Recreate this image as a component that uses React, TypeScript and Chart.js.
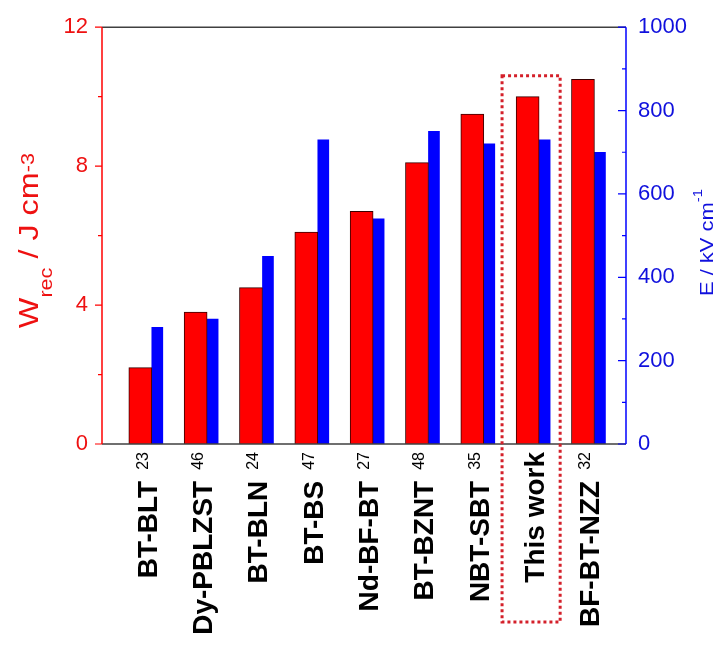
import { useEffect, useRef } from 'react';
import { Chart, registerables } from 'chart.js';

Chart.register(...registerables);

// ---- data ----
const categories = ['BT-BLT', 'Dy-PBLZST', 'BT-BLN', 'BT-BS', 'Nd-BF-BT', 'BT-BZNT', 'NBT-SBT', 'This work', 'BF-BT-NZZ'];
const refNumbers = ['23', '46', '24', '47', '27', '48', '35', '', '32'];
const wrecValues = [2.2, 3.8, 4.5, 6.1, 6.7, 8.1, 9.5, 10.0, 10.5];
const eValues = [280, 300, 450, 730, 540, 750, 720, 730, 700];
const wrecTicks = [0, 4, 8, 12];
const eTicks = [0, 200, 400, 600, 800, 1000];
const highlightIndex = 7;
const highlightTop = 10.6;

const FONT = '"Liberation Sans", Arial, Helvetica, sans-serif';
const RED = '#ff0000';
const RED_TEXT = '#ee1111';
const BLUE = '#0000ff';
const BLUE_TEXT = '#1010dd';
const FRAME = '#404040';

type Seg = { text: string; font: string; dy: number; gap?: number };

function drawRotatedRich(
  ctx: CanvasRenderingContext2D,
  segs: Seg[],
  x: number,
  y: number,
  align: 'end' | 'center',
  scaleLen: number,
  color: string
) {
  ctx.save();
  ctx.translate(x, y);
  ctx.rotate(-Math.PI / 2);
  ctx.scale(scaleLen, 1);
  ctx.fillStyle = color;
  ctx.textBaseline = 'alphabetic';
  ctx.textAlign = 'left';
  const widths = segs.map((s) => {
    ctx.font = s.font;
    return ctx.measureText(s.text).width;
  });
  let total = 0;
  segs.forEach((s, i) => {
    total += widths[i] + (s.gap || 0);
  });
  let cx = align === 'end' ? -total : -total / 2;
  segs.forEach((s, i) => {
    cx += s.gap || 0;
    ctx.font = s.font;
    ctx.fillText(s.text, cx, s.dy);
    cx += widths[i];
  });
  ctx.restore();
}

const decorPlugin = {
  id: 'decor',
  afterDatasetsDraw(chart: any) {
    const { ctx, chartArea } = chart;
    const { left, right, top, bottom } = chartArea;
    const y = chart.scales.y;
    const y1 = chart.scales.y1;

    ctx.save();
    ctx.lineWidth = 1.5;
    // frame
    ctx.strokeStyle = FRAME;
    ctx.beginPath();
    ctx.moveTo(left, top);
    ctx.lineTo(right, top);
    ctx.moveTo(left, bottom);
    ctx.lineTo(right, bottom);
    ctx.stroke();
    ctx.strokeStyle = RED;
    ctx.beginPath();
    ctx.moveTo(left, top);
    ctx.lineTo(left, bottom);
    ctx.stroke();
    ctx.strokeStyle = BLUE;
    ctx.beginPath();
    ctx.moveTo(right, top);
    ctx.lineTo(right, bottom);
    ctx.stroke();

    // left ticks (outward), major + minor
    ctx.strokeStyle = RED;
    ctx.lineWidth = 1.2;
    ctx.beginPath();
    for (let i = 0; i < wrecTicks.length; i++) {
      const py = y.getPixelForValue(wrecTicks[i]);
      ctx.moveTo(left - 7, py);
      ctx.lineTo(left, py);
      if (i < wrecTicks.length - 1) {
        const pm = y.getPixelForValue((wrecTicks[i] + wrecTicks[i + 1]) / 2);
        ctx.moveTo(left - 4, pm);
        ctx.lineTo(left, pm);
      }
    }
    ctx.stroke();

    // right ticks (inward)
    ctx.strokeStyle = BLUE;
    ctx.beginPath();
    for (let i = 0; i < eTicks.length; i++) {
      const py = y1.getPixelForValue(eTicks[i]);
      ctx.moveTo(right - 8, py);
      ctx.lineTo(right, py);
      if (i < eTicks.length - 1) {
        const pm = y1.getPixelForValue((eTicks[i] + eTicks[i + 1]) / 2);
        ctx.moveTo(right - 4, pm);
        ctx.lineTo(right, pm);
      }
    }
    ctx.stroke();
    ctx.restore();
  },
  afterDraw(chart: any) {
    const { ctx, chartArea } = chart;
    const { top, bottom } = chartArea;
    const x = chart.scales.x;
    const y = chart.scales.y;

    // category labels (rotated, bold + superscript refs)
    categories.forEach((name, i) => {
      const cx = x.getPixelForValue(i) - 5;
      const segs: Seg[] = [{ text: name, font: `bold 28px ${FONT}`, dy: 10 }];
      if (refNumbers[i]) segs.push({ text: refNumbers[i], font: `16px ${FONT}`, dy: 1, gap: 11 });
      drawRotatedRich(ctx, segs, cx, bottom + 8, 'end', 1, '#000000');
    });

    // left axis title: W_rec / J cm^-3
    drawRotatedRich(
      ctx,
      [
        { text: 'W', font: `27px ${FONT}`, dy: 0 },
        { text: 'rec', font: `18px ${FONT}`, dy: 14 },
        { text: ' / J cm', font: `27px ${FONT}`, dy: 0 },
        { text: '-3', font: `18px ${FONT}`, dy: -4 },
      ],
      38,
      (top + bottom) / 2 + 5,
      'center',
      1.2,
      RED_TEXT
    );

    // right axis title: E / kV cm^-1
    drawRotatedRich(
      ctx,
      [
        { text: 'E / kV cm', font: `18px ${FONT}`, dy: 0 },
        { text: '-1', font: `12px ${FONT}`, dy: -11 },
      ],
      713,
      (top + bottom) / 2 + 7,
      'center',
      1.22,
      BLUE_TEXT
    );

    // dotted highlight box around "This work"
    const bx0 = x.getPixelForValue(highlightIndex - 0.67);
    const bx1 = x.getPixelForValue(highlightIndex + 0.38);
    const by0 = y.getPixelForValue(highlightTop);
    const by1 = bottom + 178;
    ctx.save();
    ctx.strokeStyle = '#d4202a';
    ctx.lineWidth = 3;
    ctx.setLineDash([3, 3]);
    ctx.strokeRect(bx0, by0, bx1 - bx0, by1 - by0);
    ctx.restore();
  },
};

export default function App() {
  const canvasRef = useRef<HTMLCanvasElement | null>(null);

  useEffect(() => {
    if (!canvasRef.current) return;
    const chart = new Chart(canvasRef.current, {
      type: 'bar',
      data: {
        datasets: [
          {
            label: 'Wrec',
            data: wrecValues.map((v, i) => ({ x: i, y: v })),
            yAxisID: 'y',
            backgroundColor: RED,
            borderColor: '#3a0000',
            borderWidth: 1,
            barThickness: 23,
          },
          {
            label: 'E',
            data: eValues.map((v, i) => ({ x: i, y: v })),
            yAxisID: 'y1',
            backgroundColor: BLUE,
            borderWidth: 0,
            barThickness: 11,
          },
        ] as any,
      },
      options: {
        animation: false,
        responsive: true,
        maintainAspectRatio: false,
        layout: { padding: { top: 20, left: 0, right: 0, bottom: 0 } },
        plugins: { legend: { display: false }, tooltip: { enabled: false } },
        scales: {
          x: {
            type: 'linear',
            min: -0.9,
            max: categories.length - 0.43,
            offset: false,
            grid: { display: false, drawTicks: false },
            border: { display: false },
            ticks: { display: false },
            afterFit: (s: any) => {
              s.height = 209;
            },
          },
          y: {
            position: 'left',
            min: 0,
            max: 12,
            grid: { display: false, drawTicks: false },
            border: { display: false },
            ticks: {
              stepSize: 4,
              color: RED_TEXT,
              padding: 14,
              font: { family: FONT, size: 22 },
              callback: (v: any) => String(v),
            },
            afterFit: (s: any) => {
              s.width = 102;
            },
          },
          y1: {
            position: 'right',
            min: 0,
            max: 1000,
            grid: { display: false, drawTicks: false },
            border: { display: false },
            ticks: {
              stepSize: 200,
              color: BLUE_TEXT,
              padding: 12,
              font: { family: FONT, size: 22 },
              callback: (v: any) => String(v),
            },
            afterFit: (s: any) => {
              s.width = 98;
            },
          },
        } as any,
      },
      plugins: [decorPlugin],
    });
    return () => chart.destroy();
  }, []);

  return (
    <div style={{ position: 'fixed', left: 0, top: 0, width: 724, height: 653, background: '#ffffff' }}>
      <canvas ref={canvasRef} />
    </div>
  );
}
